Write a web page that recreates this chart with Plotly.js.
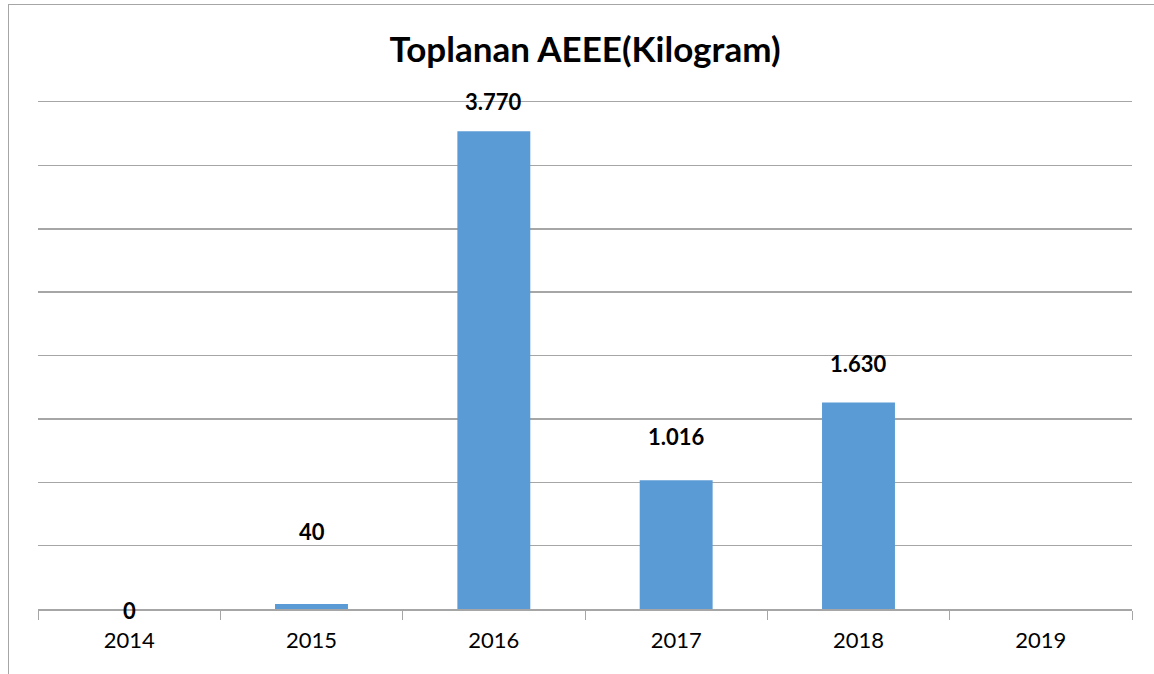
<!DOCTYPE html>
<html>
<head>
<meta charset="utf-8">
<script src="https://cdn.plot.ly/plotly-3.0.1.min.js"></script>
<style>
    body { margin: 0; background: #fff; }
    .frame {
        position: absolute;
        left: 8px;
        top: 4px;
        width: 1146px;
        height: 670px;
        border-top: 1px solid #a6a6a6;
        border-left: 1px solid #a6a6a6;
        pointer-events: none;
        z-index: 5;
    }
    #chart { width: 1154px; height: 674px; }
</style>
</head>
<body>
<div class="frame"></div>
<div id="chart"></div>
<script>
const years = ['2014', '2015', '2016', '2017', '2018', '2019']
const weights = [0, 40, 3770, 1016, 1630, null]
// label offsets above bar tops, in px (the labels sit at uneven heights)
const labelShift = [-1, 72, 30, 44, 39, 0]

function formatTr(v) {
    return String(v).replace(/\B(?=(\d{3})+(?!\d))/g, '.')
}

const bars = {
    x: years,
    y: weights,
    type: 'bar',
    marker: { color: '#5b9bd5' },
    hoverinfo: 'x+y'
}

// on a category axis annotations take the category index
const labels = []
years.forEach((yr, i) => {
    if (weights[i] !== null) {
        labels.push({
            x: i,
            y: weights[i],
            xref: 'x',
            yref: 'y',
            text: '<b>' + formatTr(weights[i]) + '</b>',
            showarrow: false,
            yanchor: 'middle',
            yshift: labelShift[i],
            font: { family: 'Lato, sans-serif', size: 22, color: '#000' }
        })
    }
})

const layout = {
    width: 1154,
    height: 674,
    margin: { l: 38, r: 22, t: 102, b: 65 },
    paper_bgcolor: '#fff',
    plot_bgcolor: '#fff',
    showlegend: false,
    bargap: 0.6,
    title: {
        text: '<b>Toplanan AEEE(Kilogram)</b>',
        font: { family: 'Lato, sans-serif', size: 35, color: '#000' },
        x: 0.5,
        xref: 'paper',
        y: 1 - 50 / 674,
        yref: 'container',
        yanchor: 'middle'
    },
    xaxis: {
        type: 'category',
        categoryarray: years,
        range: [-0.5, years.length - 0.5],
        showgrid: false,
        showline: true,
        mirror: true, // top gridline at 4000
        linecolor: '#a6a6a6',
        linewidth: 1.5,
        ticks: 'outside',
        tickson: 'boundaries',
        ticklen: 9,
        tickcolor: '#a6a6a6',
        ticklabelstandoff: 11,
        tickfont: { family: 'Lato, sans-serif', size: 22, color: '#000' },
        fixedrange: true
    },
    yaxis: {
        range: [0, 4000],
        dtick: 500,
        showticklabels: false,
        showgrid: true,
        gridcolor: '#a6a6a6',
        gridwidth: 1.5,
        zeroline: false,
        showline: false,
        fixedrange: true
    },
    annotations: labels
}

Plotly.newPlot('chart', [bars], layout, { displayModeBar: false, staticPlot: true })
</script>
</body>
</html>
